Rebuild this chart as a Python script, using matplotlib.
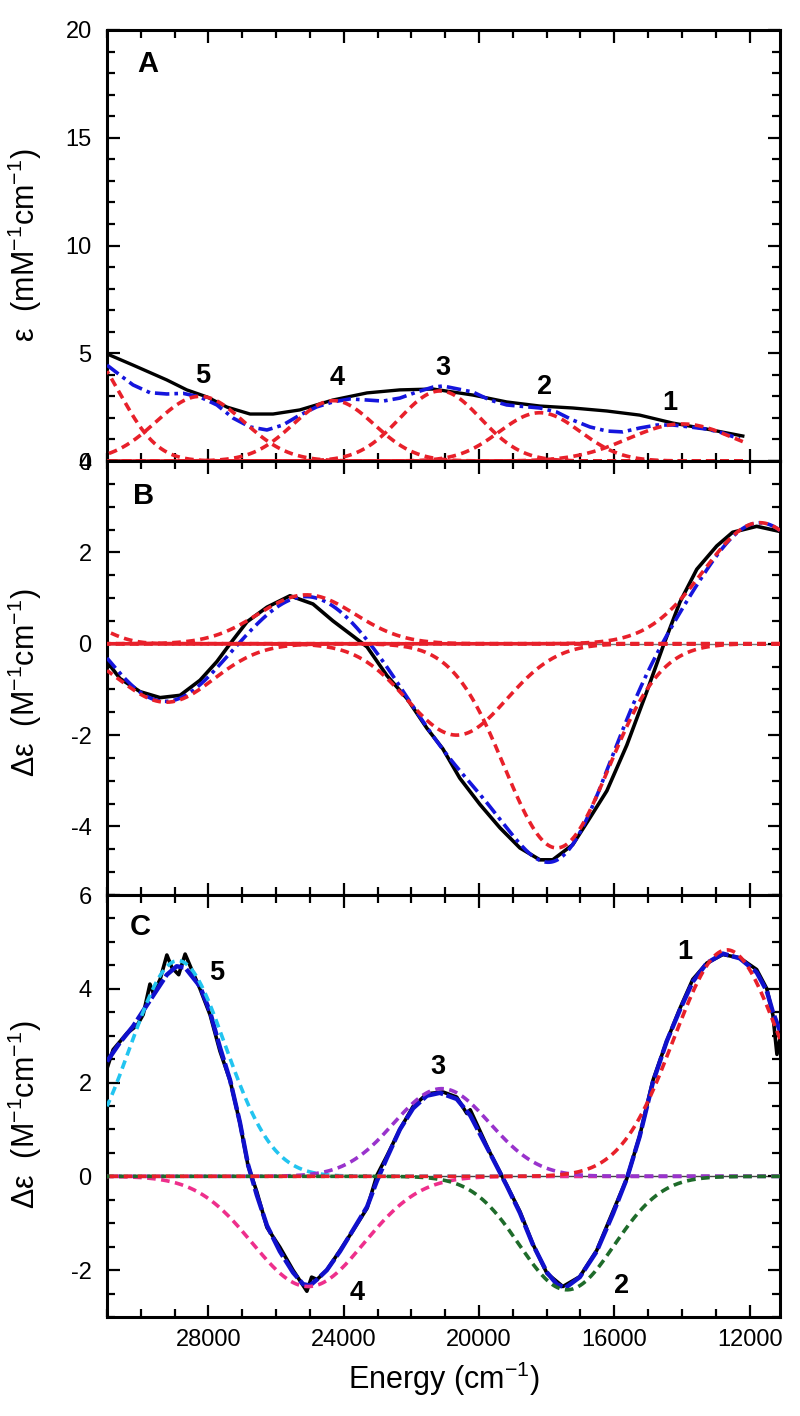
import numpy as np
import matplotlib
matplotlib.use("Agg")
import matplotlib.pyplot as plt
from matplotlib.ticker import MultipleLocator

plt.rcParams['font.family'] = ['Liberation Sans', 'DejaVu Sans']
plt.rcParams['mathtext.fontset'] = 'custom'
plt.rcParams['mathtext.rm'] = 'Liberation Sans'
plt.rcParams['mathtext.it'] = 'Liberation Sans:italic'
plt.rcParams['axes.unicode_minus'] = False

# ---------------- Panel A: absorption ----------------
A_exp_E = [31000, 30230, 29230, 28640, 28040, 27450, 26770, 26090, 25300, 24320, 23310,
           22340, 21360, 20180, 19180, 18200, 17230, 16220, 15250, 14270, 13260, 12200]
A_exp_v = [4.97, 4.45, 3.76, 3.30, 2.97, 2.50, 2.18, 2.18, 2.37, 2.83, 3.16,
           3.30, 3.34, 3.06, 2.74, 2.55, 2.46, 2.32, 2.13, 1.76, 1.48, 1.16]
A_fit_E = [31000, 30620, 30230, 29730, 29230, 28750, 28250, 27750, 27270, 26770, 26270,
           25800, 25300, 24800, 24320, 23820, 23310, 22840, 22340, 21840, 21360, 21060,
           20180, 19680, 19180, 18200, 17700, 17230, 16720, 16220, 15750, 15250, 14740,
           14270, 13770, 13260, 12790, 12290]
A_fit_v = [4.45, 3.99, 3.53, 3.17, 3.11, 3.14, 2.97, 2.60, 1.99, 1.58, 1.44,
           1.67, 2.13, 2.51, 2.74, 2.88, 2.83, 2.78, 2.92, 3.20, 3.43, 3.48,
           3.20, 2.83, 2.60, 2.46, 2.27, 1.90, 1.58, 1.39, 1.35, 1.53, 1.67,
           1.67, 1.58, 1.48, 1.30, 1.02]
# Gaussian bands (center cm-1, amplitude, sigma cm-1)
A_band_center = [31700, 28250, 24300, 21150, 18200, 14000]
A_band_amp    = [5.1, 3.0, 2.8, 3.25, 2.24, 1.72]
A_band_sigma  = [1100, 1300, 1200, 1200, 1200, 1580]
A_labels = ['5', '4', '3', '2', '1']
A_label_E = [28160, 24200, 21070, 18050, 14360]
A_label_v = [3.95, 3.85, 4.3, 3.45, 2.7]

# ---------------- Panel B: CD ----------------
B_exp_E = [31000, 30620, 30020, 29430, 28840, 28250, 27750, 27360, 26860, 26270, 25590,
           24910, 24320, 23730, 23310, 22720, 22130, 21540, 21070, 20570, 19970, 19380,
           18790, 18200, 17820, 17230, 16720, 16220, 15630, 15040, 14550, 14060, 13560,
           12970, 12500, 11790, 11110]
B_exp_v = [-0.39, -0.76, -1.05, -1.18, -1.13, -0.80, -0.39, 0.0, 0.48, 0.80, 1.05,
           0.87, 0.50, 0.17, -0.07, -0.70, -1.20, -1.85, -2.30, -2.94, -3.52, -4.03,
           -4.47, -4.73, -4.73, -4.40, -3.81, -3.22, -2.22, -1.05, -0.04, 0.91, 1.63,
           2.14, 2.44, 2.57, 2.46]
B_band_center = [31800, 29250, 25100, 20660, 17700, 11700]
B_band_amp    = [0.45, -1.28, 1.07, -2.0, -4.47, 2.65]
B_band_sigma  = [800, 1400, 1430, 1480, 1540, 1650]

# ---------------- Panel C: MCD ----------------
C_exp_E = [31000, 30820, 30410, 30110, 29930, 29730, 29630, 29430, 29230, 29080, 28880,
           28690, 28490, 28250, 27950, 27660, 27360, 27070, 26830, 26570, 26270, 25890,
           25500, 25090, 24950, 24790, 24500, 24110, 23730, 23310, 23020, 22720, 22340,
           21950, 21540, 21070, 20660, 20360, 20260, 19680, 19180, 18790, 18410, 17990,
           17520, 17020, 16520, 16040, 15630, 15250, 14860, 14450, 14060, 13680, 13260,
           12790, 12290, 11790, 11490, 11310, 11190, 11110]
C_exp_v = [2.30, 2.70, 3.05, 3.22, 3.45, 4.10, 3.90, 4.20, 4.72, 4.45, 4.30,
           4.74, 4.40, 4.00, 3.44, 2.67, 2.04, 1.14, 0.23, -0.33, -1.09, -1.51,
           -2.00, -2.45, -2.15, -2.20, -2.00, -1.58, -1.16, -0.68, 0.02, 0.44, 1.00,
           1.49, 1.76, 1.80, 1.69, 1.34, 1.42, 0.51, -0.19, -0.75, -1.44, -2.07,
           -2.35, -2.14, -1.58, -0.75, -0.05, 0.86, 2.04, 2.88, 3.58, 4.20, 4.55,
           4.73, 4.66, 4.41, 4.00, 3.44, 2.60, 2.90]
C_fit_E = [31000, 30620, 30230, 29730, 29230, 28940, 28690, 28250, 27950, 27660, 27360,
           27070, 26830, 26570, 26270, 25890, 25500, 25200, 25000, 24790, 24500, 24110,
           23730, 23310, 23020, 22720, 22340, 21950, 21540, 21160, 20660, 20260, 19680,
           19180, 18790, 18410, 17990, 17700, 17450, 17020, 16520, 16040, 15630, 15250,
           14860, 14450, 14060, 13680, 13260, 12790, 12290, 11790, 11490, 11310, 11100]
C_fit_v = [2.45, 2.85, 3.20, 3.75, 4.30, 4.48, 4.45, 4.05, 3.50, 2.75, 2.05,
           1.15, 0.25, -0.40, -1.05, -1.60, -2.05, -2.30, -2.33, -2.20, -2.00, -1.60,
           -1.15, -0.65, -0.10, 0.40, 1.00, 1.45, 1.72, 1.78, 1.65, 1.30, 0.50,
           -0.20, -0.78, -1.45, -2.05, -2.30, -2.38, -2.15, -1.60, -0.80, -0.05, 0.85,
           2.00, 2.88, 3.55, 4.15, 4.55, 4.75, 4.65, 4.35, 3.95, 3.50, 3.10]
C_band_center = [28900, 25050, 21100, 17400, 12670]
C_band_amp    = [4.6, -2.35, 1.87, -2.42, 4.83]
C_band_sigma  = [1400, 1650, 1420, 1400, 1570]
C_band_color  = ['#22C4F0', '#EE2F8C', '#9933CC', '#1E6B2A', '#E8202A']
C_labels = ['5', '4', '3', '2', '1']
C_label_E = [27750, 23610, 21210, 15780, 13910]
C_label_v = [4.34, -2.48, 2.33, -2.33, 4.79]

RED = '#E8202A'
BLUE = '#1515DD'

def gauss(E, c, a, s):
    return a * np.exp(-(E - c) ** 2 / (2.0 * s ** 2))

W, H = 800, 1416
fig = plt.figure(figsize=(W / 100, H / 100), dpi=100)

def rect(top, bottom):
    return [107 / W, 1 - bottom / H, 673 / W, (bottom - top) / H]

axA = fig.add_axes(rect(30, 461))
axB = fig.add_axes(rect(461, 895))
axC = fig.add_axes(rect(895, 1317))

grid_full = np.linspace(11100, 31000, 800)
grid_A = np.linspace(12200, 31000, 800)

dash = (2.4, 1.5)
dashdot = (4.0, 1.4, 1.0, 1.4)

# Panel A
axA.plot(A_exp_E, A_exp_v, color='black', lw=2.4, zorder=3)
axA.plot(A_fit_E, A_fit_v, color=BLUE, lw=2.6, dashes=dashdot, zorder=4)
for c, a, s in zip(A_band_center, A_band_amp, A_band_sigma):
    axA.plot(grid_A, gauss(grid_A, c, a, s), color=RED, lw=2.6, dashes=dash, zorder=5)
for t, e, v in zip(A_labels, A_label_E, A_label_v):
    axA.text(e, v, t, fontsize=19.5, fontweight='bold', ha='center', va='center')

# Panel B
axB.axhline(0, color='#777777', lw=1.0, zorder=1)
axB.plot([31000, 19000], [0, 0], color=RED, lw=1.4, zorder=2)
axB.plot(B_exp_E, B_exp_v, color='black', lw=2.6, zorder=3)
B_sum = np.zeros_like(grid_full)
for c, a, s in zip(B_band_center, B_band_amp, B_band_sigma):
    B_sum += gauss(grid_full, c, a, s)
axB.plot(grid_full, B_sum, color=BLUE, lw=2.6, dashes=dashdot, zorder=4)
for c, a, s in zip(B_band_center, B_band_amp, B_band_sigma):
    axB.plot(grid_full, gauss(grid_full, c, a, s), color=RED, lw=2.6, dashes=dash, zorder=5)

# Panel C
axC.axhline(0, color='#444444', lw=1.0, zorder=1)
axC.plot(C_exp_E, C_exp_v, color='black', lw=2.6, zorder=3)
axC.plot(C_fit_E, C_fit_v, color='#1010CC', lw=3.2, dashes=(5, 0.8), zorder=4)
for c, a, s, col in zip(C_band_center, C_band_amp, C_band_sigma, C_band_color):
    axC.plot(grid_full, gauss(grid_full, c, a, s), color=col, lw=2.6, dashes=dash, zorder=5)
for t, e, v in zip(C_labels, C_label_E, C_label_v):
    axC.text(e, v, t, fontsize=19.5, fontweight='bold', ha='center', va='center')

# Axes styling
for ax in (axA, axB, axC):
    ax.set_xlim(31000, 11100)
    ax.xaxis.set_major_locator(MultipleLocator(4000))
    ax.xaxis.set_minor_locator(MultipleLocator(1000))
    ax.tick_params(which='both', direction='in', top=True, right=True, width=1.6,
                   labelsize=17)
    ax.tick_params(which='major', length=9)
    ax.tick_params(which='minor', length=5.5)
    ax.tick_params(axis='y', pad=11)
    ax.tick_params(axis='x', pad=9)
    for sp in ax.spines.values():
        sp.set_linewidth(2.2)

axA.set_ylim(0, 20)
axA.yaxis.set_major_locator(MultipleLocator(5))
axA.yaxis.set_minor_locator(MultipleLocator(1))
axB.set_ylim(-5.5, 4)
axB.yaxis.set_major_locator(MultipleLocator(2))
axB.yaxis.set_minor_locator(MultipleLocator(0.5))
axC.set_ylim(-3, 6)
axC.yaxis.set_major_locator(MultipleLocator(2))
axC.yaxis.set_minor_locator(MultipleLocator(0.5))

axA.tick_params(axis='x', labelbottom=False)
axB.tick_params(axis='x', labelbottom=False)

lab_kw = dict(fontsize=22)
axA.set_ylabel('ε  (mM$^{\\mathregular{-1}}$cm$^{\\mathregular{-1}}$)', **lab_kw)
axB.set_ylabel('Δε  (M$^{\\mathregular{-1}}$cm$^{\\mathregular{-1}}$)', **lab_kw)
axC.set_ylabel('Δε  (M$^{\\mathregular{-1}}$cm$^{\\mathregular{-1}}$)', **lab_kw)
axA.yaxis.set_label_coords(-0.093, 0.5)
axB.yaxis.set_label_coords(-0.093, 0.49)
axC.yaxis.set_label_coords(-0.093, 0.48)
axC.set_xlabel('Energy (cm$^{\\mathregular{-1}}$)', fontsize=22, labelpad=6)

axA.text(0.06, 0.92, 'A', transform=axA.transAxes, fontsize=21, fontweight='bold',
         ha='center', va='center')
axB.text(0.054, 0.92, 'B', transform=axB.transAxes, fontsize=21, fontweight='bold',
         ha='center', va='center')
axC.text(0.05, 0.924, 'C', transform=axC.transAxes, fontsize=21, fontweight='bold',
         ha='center', va='center')

fig.savefig('out.png', dpi=100)
